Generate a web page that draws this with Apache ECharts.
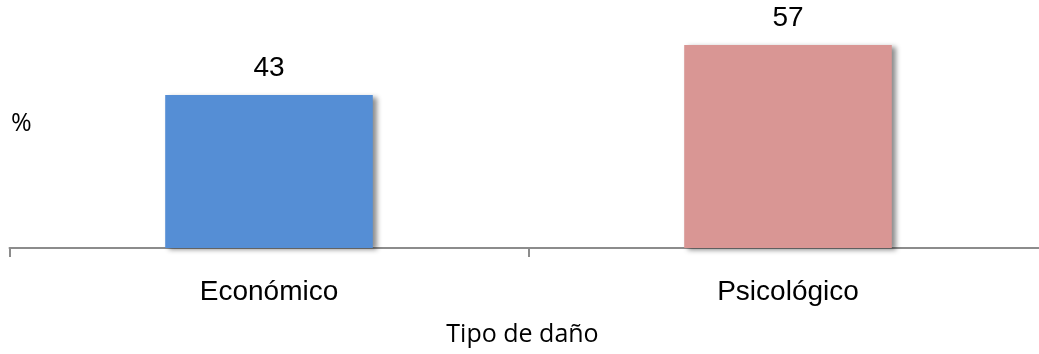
<!DOCTYPE html>
<html>
<head>
<meta charset="utf-8">
<style>
  html, body { margin: 0; padding: 0; background: #fff; }
  #chart { width: 1039px; height: 354px; }
</style>
<script src="https://cdn.jsdelivr.net/npm/echarts@6/dist/echarts.min.js"></script>
</head>
<body>
<div id="chart"></div>
<script>
// Share of reported harm by type (%)
const categories = ['Económico', 'Psicológico'];
const values = [43, 57];
const barColors = ['#558ED5', '#D99694'];
const axisTitle = 'Tipo de daño';
const unitLabel = '%';

const chart = echarts.init(document.getElementById('chart'));

chart.setOption({
  animation: false,
  title: [{
    text: unitLabel,
    left: 6,
    top: 106,
    textStyle: { fontFamily: 'Open Sans', fontSize: 25, fontWeight: 'normal', color: '#000' }
  }],
  grid: {
    left: 9.5,
    top: 34.4,
    width: 1038,
    height: 213.6,
    outerBoundsMode: 'none',
    containLabel: false
  },
  xAxis: {
    type: 'category',
    data: categories,
    name: axisTitle,
    nameLocation: 'middle',
    nameGap: 74,
    nameTextStyle: {
      fontFamily: 'Open Sans', fontSize: 25, color: '#000',
      padding: [0, 12, 0, 0]
    },
    axisLine: { show: true, lineStyle: { color: '#8c8c8c', width: 2 } },
    axisTick: { show: true, alignWithLabel: false, length: 9, lineStyle: { color: '#8c8c8c', width: 2 } },
    axisLabel: {
      margin: 30,
      fontFamily: 'Liberation Sans, Arial',
      fontSize: 28,
      color: '#000'
    }
  },
  yAxis: {
    type: 'value',
    min: 0,
    max: 60,
    show: false
  },
  series: [{
    type: 'bar',
    data: values.map((v, i) => ({ value: v, itemStyle: { color: barColors[i] } })),
    barWidth: '40%',
    itemStyle: {
      shadowColor: 'rgba(0,0,0,0.45)',
      shadowBlur: 5,
      shadowOffsetX: 4,
      shadowOffsetY: 2
    },
    label: {
      show: true,
      position: 'top',
      distance: 13,
      fontFamily: 'Liberation Sans, Arial',
      fontSize: 28,
      color: '#000'
    }
  }]
});
</script>
</body>
</html>
